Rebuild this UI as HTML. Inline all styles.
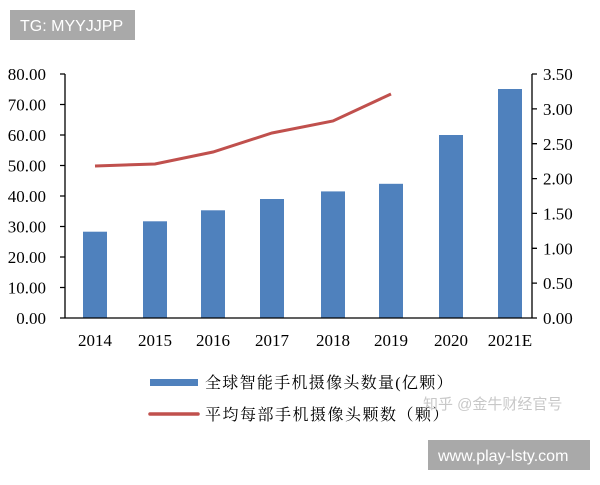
<!DOCTYPE html>
<html><head><meta charset="utf-8"><style>
body{margin:0;background:#fff;width:600px;height:480px;overflow:hidden}
</style></head><body>
<svg width="600" height="480" xmlns="http://www.w3.org/2000/svg" font-family="'Liberation Serif','Noto Serif CJK SC',serif">
<rect x="10" y="10" width="125" height="30" fill="#a9a9a9"/>
<text x="20" y="31" font-family="'Liberation Sans',sans-serif" font-size="16" fill="#fff">TG: MYYJJPP</text>
<g fill="#4f81bd">
<rect x="83" y="231.7" width="24" height="86.3"/>
<rect x="143" y="221.3" width="24" height="96.7"/>
<rect x="201" y="210.3" width="24" height="107.7"/>
<rect x="260" y="199" width="24" height="119"/>
<rect x="321" y="191.4" width="24" height="126.6"/>
<rect x="379" y="183.8" width="24" height="134.2"/>
<rect x="439" y="135" width="24" height="183"/>
<rect x="498" y="89" width="24" height="229"/>
</g>
<polyline points="95,166 155,164 213,152 272,133 333,121 391,94" fill="none" stroke="#c0504d" stroke-width="3"/>
<g stroke="#000" stroke-width="1.3">
<line x1="65" y1="74" x2="65" y2="318"/>
<line x1="532" y1="74" x2="532" y2="318"/>
<line x1="65" y1="318" x2="532" y2="318"/>
<path d="M60 74H65M60 104.5H65M60 135H65M60 165.5H65M60 196H65M60 226.5H65M60 257H65M60 287.5H65M60 318H65"/>
<path d="M532 74H537M532 108.9H537M532 143.7H537M532 178.6H537M532 213.4H537M532 248.3H537M532 283.1H537M532 318H537"/>
</g>
<g font-size="17" fill="#000" text-anchor="end">
<text x="46" y="80">80.00</text><text x="46" y="110.5">70.00</text><text x="46" y="141">60.00</text><text x="46" y="171.5">50.00</text><text x="46" y="202">40.00</text><text x="46" y="232.5">30.00</text><text x="46" y="263">20.00</text><text x="46" y="293.5">10.00</text><text x="46" y="324">0.00</text>
</g>
<g font-size="17" fill="#000">
<text x="543" y="80">3.50</text><text x="543" y="115">3.00</text><text x="543" y="150">2.50</text><text x="543" y="184.6">2.00</text><text x="543" y="219.4">1.50</text><text x="543" y="254.3">1.00</text><text x="543" y="289.1">0.50</text><text x="543" y="324">0.00</text>
</g>
<g font-size="17" fill="#000" text-anchor="middle">
<text x="95" y="346">2014</text><text x="155" y="346">2015</text><text x="213" y="346">2016</text><text x="272" y="346">2017</text><text x="333" y="346">2018</text><text x="391" y="346">2019</text><text x="451" y="346">2020</text><text x="510" y="346">2021E</text>
</g>
<rect x="150" y="379" width="48" height="7" fill="#4f81bd"/>
<text x="205" y="388" font-size="16" letter-spacing="1.3">全球智能手机摄像头数量(亿颗）</text>
<line x1="150" y1="414" x2="198" y2="414" stroke="#c0504d" stroke-width="3.5" stroke-linecap="round"/>
<text x="205" y="420" font-size="16" letter-spacing="1.5">平均每部手机摄像头颗数（颗）</text>
<text x="423" y="409" font-family="'Liberation Sans','Noto Sans CJK SC',sans-serif" font-size="15" fill="#c8c8c8">知乎 @金牛财经官号</text>
<rect x="428" y="440" width="162" height="30" fill="#a9a9a9"/>
<text x="438" y="461" font-family="'Liberation Sans',sans-serif" font-size="16" fill="#fff">www.play-lsty.com</text>
</svg>
</body></html>
